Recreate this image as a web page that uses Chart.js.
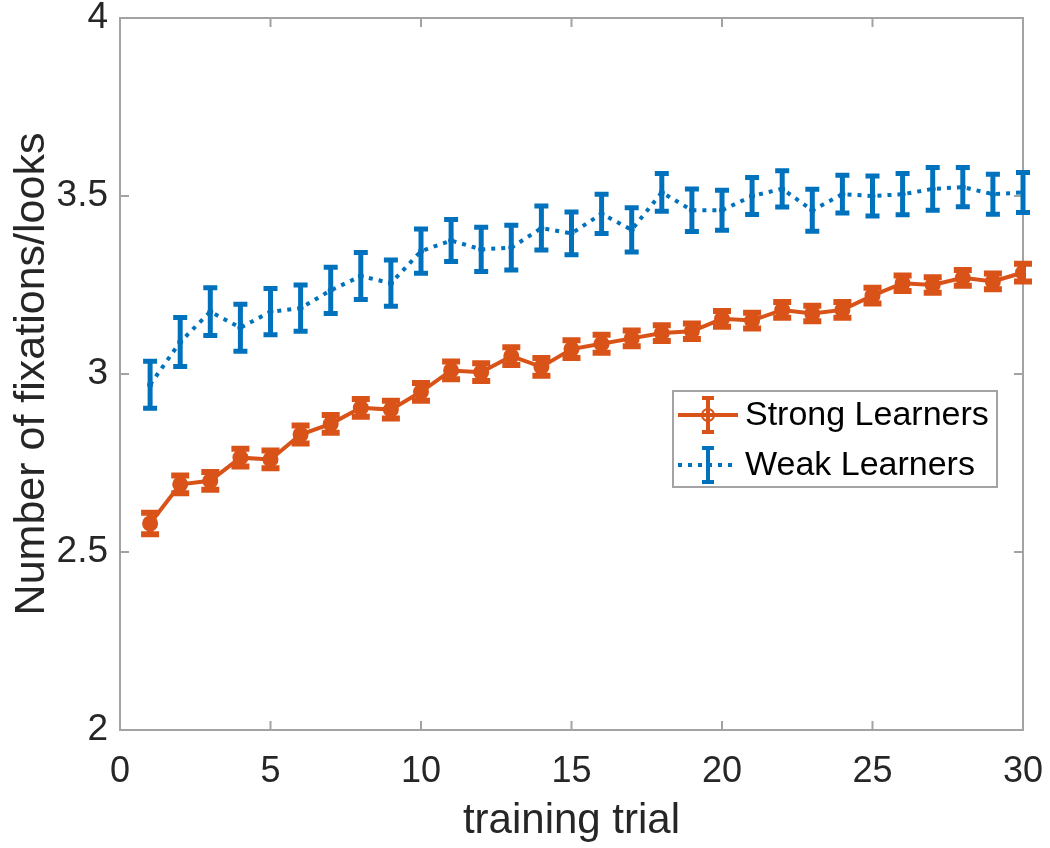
<!DOCTYPE html>
<html lang="en">
<head>
    <meta charset="UTF-8">
    <title>Fixations per training trial</title>
    <style>
        body {
            margin: 0;
            padding: 0;
            background: white;
            overflow: hidden;
        }
        #wrap {
            width: 1050px;
            height: 848px;
            position: relative;
        }
    </style>
    <script src="https://cdn.jsdelivr.net/npm/chart.js"></script>
</head>
<body>

<div id="wrap">
    <canvas id="fixChart" width="1050" height="848"></canvas>
</div>

<script>
    // Data
    const trials = [1, 2, 3, 4, 5, 6, 7, 8, 9, 10, 11, 12, 13, 14, 15,
                    16, 17, 18, 19, 20, 21, 22, 23, 24, 25, 26, 27, 28, 29, 30];

    const strongMean = [2.58, 2.69, 2.70, 2.765, 2.76, 2.83, 2.86, 2.905, 2.90, 2.95,
                        3.01, 3.005, 3.05, 3.02, 3.07, 3.085, 3.10, 3.115, 3.12, 3.155,
                        3.15, 3.18, 3.17, 3.18, 3.22, 3.255, 3.25, 3.27, 3.26, 3.285];
    const strongErr = [0.03, 0.025, 0.025, 0.025, 0.025, 0.025, 0.025, 0.025, 0.025, 0.025,
                       0.025, 0.025, 0.025, 0.025, 0.025, 0.025, 0.022, 0.022, 0.022, 0.022,
                       0.022, 0.022, 0.022, 0.022, 0.022, 0.022, 0.022, 0.022, 0.022, 0.025];

    const weakMean = [2.97, 3.09, 3.175, 3.13, 3.175, 3.185, 3.235, 3.275, 3.255, 3.345,
                      3.375, 3.35, 3.355, 3.41, 3.395, 3.45, 3.405, 3.51, 3.46, 3.46,
                      3.50, 3.52, 3.46, 3.505, 3.50, 3.505, 3.52, 3.525, 3.505, 3.51];
    const weakErr = [0.066, 0.069, 0.067, 0.066, 0.065, 0.065, 0.065, 0.066, 0.065, 0.062,
                     0.059, 0.062, 0.063, 0.062, 0.060, 0.055, 0.062, 0.053, 0.060, 0.056,
                     0.052, 0.051, 0.059, 0.053, 0.056, 0.058, 0.060, 0.055, 0.056, 0.056];

    const xTicks = [0, 5, 10, 15, 20, 25, 30];
    const yTicks = [2, 2.5, 3, 3.5, 4];

    const orange = '#D95319';
    const blue = '#0072BD';
    const axisGray = '#a3a3a3';
    const textColor = '#262626';
    const fontName = '"Liberation Sans", Arial, sans-serif';

    // matlab style box + inward ticks
    const axesBox = {
        id: 'axesBox',
        beforeDatasetsDraw(chart) {
            const {ctx, chartArea: a, scales: {x, y}} = chart;
            ctx.save();
            ctx.strokeStyle = axisGray;
            ctx.lineWidth = 2;
            ctx.strokeRect(a.left, a.top, a.right - a.left, a.bottom - a.top);
            const tl = 9;
            ctx.beginPath();
            xTicks.forEach(v => {
                const px = x.getPixelForValue(v);
                ctx.moveTo(px, a.bottom); ctx.lineTo(px, a.bottom - tl);
                ctx.moveTo(px, a.top); ctx.lineTo(px, a.top + tl);
            });
            yTicks.forEach(v => {
                const py = y.getPixelForValue(v);
                ctx.moveTo(a.left, py); ctx.lineTo(a.left + tl, py);
                ctx.moveTo(a.right, py); ctx.lineTo(a.right - tl, py);
            });
            ctx.stroke();
            ctx.restore();
        }
    };

    // vertical error bars with caps
    const errorBars = {
        id: 'errorBars',
        afterDatasetDraw(chart, args) {
            const ds = chart.data.datasets[args.index];
            if (!ds.errors) return;
            const {ctx, scales: {y}} = chart;
            ctx.save();
            ctx.strokeStyle = ds.borderColor;
            ctx.lineWidth = ds.errWidth;
            ctx.lineCap = 'butt';
            args.meta.data.forEach((pt, i) => {
                const v = ds.data[i].y;
                const e = ds.errors[i];
                const yTop = y.getPixelForValue(v + e);
                const yBot = y.getPixelForValue(v - e);
                const hw = ds.capWidth / 2;
                ctx.beginPath();
                ctx.moveTo(pt.x, yTop); ctx.lineTo(pt.x, yBot);
                ctx.moveTo(pt.x - hw, yTop); ctx.lineTo(pt.x + hw, yTop);
                ctx.moveTo(pt.x - hw, yBot); ctx.lineTo(pt.x + hw, yBot);
                ctx.stroke();
            });
            ctx.restore();
        }
    };

    // legend box inside the plot, like matlab
    const matlabLegend = {
        id: 'matlabLegend',
        afterDraw(chart) {
            const {ctx} = chart;
            const bx = 673, by = 391, bw = 324, bh = 96;
            ctx.save();
            ctx.fillStyle = 'white';
            ctx.fillRect(bx, by, bw, bh);
            ctx.strokeStyle = axisGray;
            ctx.lineWidth = 2;
            ctx.strokeRect(bx, by, bw, bh);

            const rows = [
                {y: 415, color: orange, dash: [], text: 'Strong Learners', circle: true},
                {y: 465, color: blue, dash: [4, 6], text: 'Weak Learners', circle: false}
            ];
            rows.forEach(r => {
                ctx.strokeStyle = r.color;
                ctx.lineWidth = 4;
                ctx.setLineDash(r.dash);
                ctx.beginPath();
                ctx.moveTo(678, r.y); ctx.lineTo(738, r.y);
                ctx.stroke();
                ctx.setLineDash([]);
                ctx.beginPath();
                ctx.moveTo(708, r.y - 17); ctx.lineTo(708, r.y + 17);
                ctx.moveTo(702, r.y - 17); ctx.lineTo(714, r.y - 17);
                ctx.moveTo(702, r.y + 17); ctx.lineTo(714, r.y + 17);
                ctx.stroke();
                if (r.circle) {
                    ctx.lineWidth = 2;
                    ctx.beginPath();
                    ctx.arc(708, r.y, 6, 0, Math.PI * 2);
                    ctx.stroke();
                }
                ctx.fillStyle = '#000';
                ctx.font = '34px ' + fontName;
                ctx.textBaseline = 'middle';
                ctx.fillText(r.text, 745, r.y + 1);
            });
            ctx.restore();
        }
    };

    const ctx = document.getElementById('fixChart').getContext('2d');
    const fixChart = new Chart(ctx, {
        type: 'line',
        data: {
            datasets: [
                {
                    label: 'Strong Learners',
                    data: trials.map((t, i) => ({x: t, y: strongMean[i]})),
                    errors: strongErr,
                    errWidth: 6,
                    capWidth: 18,
                    borderColor: orange,
                    backgroundColor: orange,
                    borderWidth: 4,
                    pointRadius: 7,
                    pointBorderWidth: 2,
                    pointStyle: 'circle',
                    tension: 0
                },
                {
                    label: 'Weak Learners',
                    data: trials.map((t, i) => ({x: t, y: weakMean[i]})),
                    errors: weakErr,
                    errWidth: 5,
                    capWidth: 14,
                    borderColor: blue,
                    backgroundColor: blue,
                    borderWidth: 4,
                    borderDash: [4, 6],
                    pointRadius: 3,
                    pointBorderWidth: 0,
                    tension: 0
                }
            ]
        },
        options: {
            responsive: false,
            animation: false,
            layout: {
                padding: {top: 18, right: 27, left: 0, bottom: 0}
            },
            plugins: {
                legend: {display: false},
                tooltip: {enabled: false}
            },
            scales: {
                x: {
                    type: 'linear',
                    min: 0,
                    max: 30,
                    afterFit: s => {
                        s.height = 118;
                        s.paddingLeft = 0;
                        s.paddingRight = 0;
                    },
                    afterBuildTicks: s => { s.ticks = xTicks.map(v => ({value: v})); },
                    grid: {display: false, drawTicks: false},
                    border: {display: false},
                    ticks: {
                        color: textColor,
                        padding: 20,
                        maxRotation: 0,
                        font: {family: fontName, size: 36}
                    },
                    title: {
                        display: true,
                        text: 'training trial',
                        color: textColor,
                        padding: {top: 0, bottom: 1},
                        font: {family: fontName, size: 42}
                    }
                },
                y: {
                    min: 2,
                    max: 4,
                    afterFit: s => {
                        s.width = 120;
                        s.paddingTop = 0;
                        s.paddingBottom = 0;
                    },
                    afterBuildTicks: s => { s.ticks = yTicks.map(v => ({value: v})); },
                    grid: {display: false, drawTicks: false},
                    border: {display: false},
                    ticks: {
                        color: textColor,
                        padding: 12,
                        callback: v => String(v),
                        font: {family: fontName, size: 37}
                    },
                    title: {
                        display: true,
                        text: 'Number of fixations/looks',
                        color: textColor,
                        padding: {top: 6, bottom: 0},
                        font: {family: fontName, size: 43}
                    }
                }
            }
        },
        plugins: [axesBox, errorBars, matlabLegend]
    });
</script>

</body>
</html>
